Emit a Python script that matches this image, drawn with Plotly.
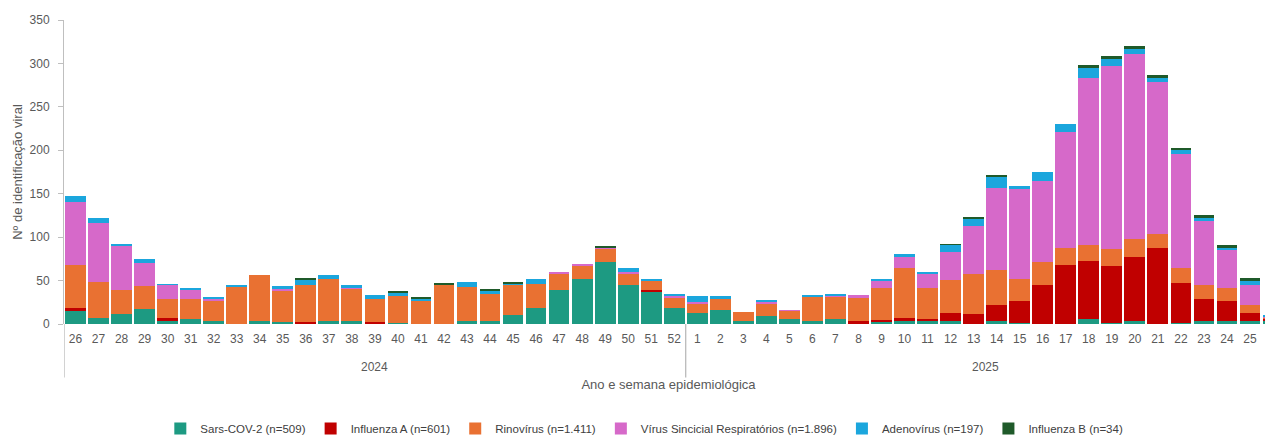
import plotly.graph_objects as go

weeks_2024 = [str(w) for w in range(26, 53)]
weeks_2025 = [str(w) for w in range(1, 27)]
years = ["2024"] * len(weeks_2024) + ["2025"] * len(weeks_2025)
weeks = weeks_2024 + weeks_2025

sars_cov2 = [16, 7, 11, 17, 4, 6, 3, 0, 4, 2, 0, 3, 3, 0, 1, 0, 0, 3, 4, 10, 19, 39, 52, 71, 45, 37, 19,
             13, 16, 3, 9, 6, 4, 6, 1, 3, 3, 4, 4, 0, 3, 1, 0, 0, 6, 1, 3, 0, 1, 3, 3, 3, 3]
influenza_a = [2, 0, 0, 0, 3, 0, 0, 0, 0, 0, 2, 0, 0, 2, 0, 0, 0, 0, 0, 0, 0, 0, 0, 0, 0, 2, 0,
               0, 0, 0, 0, 0, 0, 0, 2, 2, 4, 2, 9, 12, 19, 25, 45, 68, 67, 66, 74, 87, 46, 26, 23, 10, 3]
rinovirus = [50, 41, 28, 27, 22, 23, 24, 43, 52, 37, 43, 49, 38, 27, 31, 26, 45, 40, 30, 35, 27, 19, 15, 16, 13, 10, 12,
             11, 13, 11, 15, 9, 28, 26, 27, 36, 58, 35, 38, 46, 40, 26, 26, 19, 18, 19, 21, 17, 18, 16, 16, 9, 2]
vsr = [72, 68, 51, 26, 16, 11, 2, 0, 0, 1, 0, 0, 1, 0, 0, 0, 0, 0, 0, 0, 0, 1, 1, 1, 2, 0, 2,
       1, 0, 0, 2, 1, 0, 1, 3, 9, 12, 17, 32, 55, 95, 103, 94, 134, 192, 211, 213, 175, 131, 74, 44, 23, 1]
adenovirus = [7, 6, 1, 5, 1, 2, 1, 2, 0, 4, 6, 4, 3, 4, 4, 3, 0, 5, 4, 2, 6, 0, 0, 0, 5, 3, 2,
              7, 3, 0, 1, 0, 1, 1, 0, 2, 4, 2, 8, 9, 13, 4, 10, 9, 12, 8, 6, 4, 5, 4, 1, 5, 1]
influenza_b = [0, 0, 0, 0, 0, 0, 0, 0, 0, 0, 1, 0, 0, 0, 2, 1, 2, 0, 2, 1, 0, 0, 0, 2, 0, 0, 0,
               0, 0, 0, 0, 0, 0, 0, 0, 0, 0, 0, 1, 1, 2, 0, 0, 0, 3, 3, 3, 4, 2, 2, 4, 3, 0]

series = [
    ("Sars-COV-2 (n=509)", sars_cov2, "#1d9a82"),
    ("Influenza A (n=601)", influenza_a, "#c00000"),
    ("Rinovírus (n=1.411)", rinovirus, "#e97132"),
    ("Vírus Sincicial Respiratórios (n=1.896)", vsr, "#d669c9"),
    ("Adenovírus (n=197)", adenovirus, "#1ba6dd"),
    ("Influenza B (n=34)", influenza_b, "#1f5a2a"),
]

idx = list(range(len(weeks)))

fig = go.Figure()
for name, vals, col in series:
    fig.add_trace(go.Bar(x=idx, y=vals, name=name,
                         marker=dict(color=col, line=dict(width=0))))

grey = "#595959"

# year group labels and dividers (positions derived from the category lists)
year_names = []
for y in years:
    if y not in year_names:
        year_names.append(y)
boundaries = [-0.5]
for yn in year_names:
    members = [i for i, y in enumerate(years) if y == yn]
    center = (members[0] + members[-1]) / 2
    fig.add_annotation(x=center, xref="x", y=-0.14, yref="paper", text=yn,
                       showarrow=False, font=dict(size=12, color=grey), yanchor="middle")
    boundaries.append(members[-1] + 0.5)
for b in boundaries[:-1]:
    fig.add_shape(type="line", xref="x", yref="paper", x0=b, x1=b, y0=0, y1=-0.176,
                  line=dict(color="#a6a6a6", width=1))

fig.update_layout(
    width=1265, height=427,
    barmode="stack", bargap=0.1,
    plot_bgcolor="white", paper_bgcolor="white",
    margin=dict(l=56, r=0, t=12, b=111, autoexpand=False),
    font=dict(family="Liberation Sans, Arial, sans-serif", size=11, color=grey),
    legend=dict(orientation="h", x=0.48, xanchor="center", y=-0.344, yanchor="middle",
                font=dict(size=11.5, color="#404040"), traceorder="normal"),
    showlegend=True,
)
fig.update_xaxes(
    range=[-0.5, 52.0], tickmode="array", tickvals=idx, ticktext=weeks,
    showline=False, ticks="", showgrid=False, zeroline=False, automargin=False,
    tickfont=dict(size=12, color=grey), ticklabelstandoff=6,
    title=dict(text="Ano e semana epidemiológica", font=dict(size=13, color=grey), standoff=34),
)
fig.update_yaxes(
    range=[0, 350], dtick=50, showgrid=False, zeroline=False, automargin=False,
    showline=True, linecolor="#bfbfbf", linewidth=1,
    ticks="outside", ticklen=5, tickcolor="#bfbfbf",
    tickfont=dict(size=12, color=grey), ticklabelstandoff=6,
    title=dict(text="Nº de identificação viral", font=dict(size=13, color=grey), standoff=4),
)

fig.write_html("out.html")
